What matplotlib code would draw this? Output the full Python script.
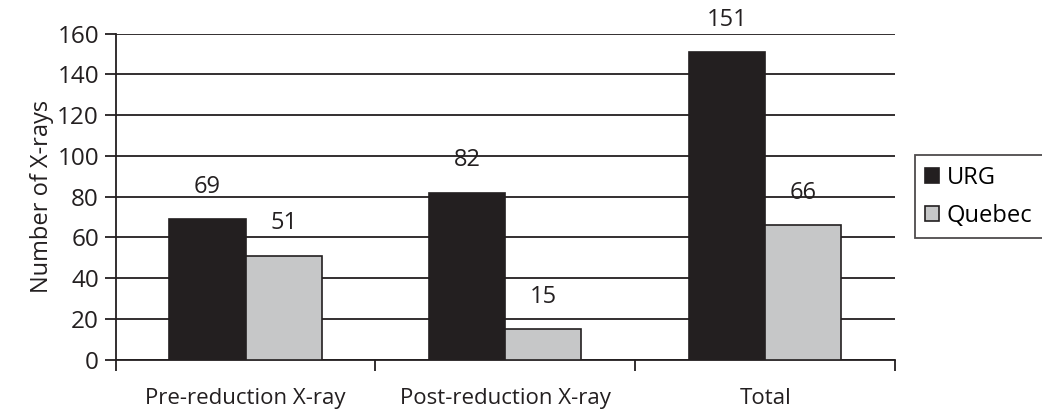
import numpy as np
import matplotlib.pyplot as plt

categories = ["Pre-reduction X-ray", "Post-reduction X-ray", "Total"]
urg = [69, 82, 151]
quebec = [51, 15, 66]

plt.rcParams['font.family'] = ['Open Sans', 'DejaVu Sans']

fig = plt.figure(figsize=(10.42, 4.15), dpi=100)
ax = fig.add_axes([0.111, 0.133, 0.748, 0.786])

x = np.arange(len(categories))
w = 0.293
b1 = ax.bar(x - w / 2, urg, w, color='#231f20', edgecolor='#231f20', linewidth=1.2, label='URG', zorder=3)
b2 = ax.bar(x + w / 2, quebec, w, color='#c6c7c8', edgecolor='#231f20', linewidth=1.2, label='Quebec', zorder=3)

for bars, vals in [(b1, urg), (b2, quebec)]:
    for r, v in zip(bars, vals):
        ax.text(r.get_x() + r.get_width() / 2, v + 10, str(v), ha='center', va='bottom',
                fontsize=17, color='#231f20')

ax.set_xlim(-0.5, 2.5)
ax.set_ylim(0, 160)
ax.set_yticks(range(0, 161, 20))
ax.yaxis.grid(True, color='#231f20', linewidth=1.3, zorder=0)
ax.set_axisbelow(True)

ax.set_xticks(x)
ax.set_xticklabels(categories, fontsize=16, color='#231f20')
ax.set_xticks([-0.5, 0.5, 1.5, 2.5], minor=True)
ax.tick_params(axis='x', which='major', length=0, pad=20)
ax.tick_params(axis='x', which='minor', length=8, width=1.3, color='#231f20')
ax.tick_params(axis='y', length=8, width=1.3, color='#231f20', labelsize=17.5, labelcolor='#231f20', pad=4)

ax.set_ylabel("Number of X-rays", fontsize=17, color='#231f20', labelpad=2)

for s in ['top', 'right']:
    ax.spines[s].set_visible(False)
for s in ['left', 'bottom']:
    ax.spines[s].set_color('#231f20')
    ax.spines[s].set_linewidth(1.3)

leg = ax.legend(loc='center left', bbox_to_anchor=(1.025, 0.5), fontsize=17, frameon=True,
                fancybox=False, edgecolor='#231f20', handlelength=0.6, handleheight=0.6,
                handletextpad=0.3, borderpad=0.45, labelspacing=0.6, borderaxespad=0)
leg.get_frame().set_linewidth(1.3)

fig.savefig('out.png', dpi=100)
